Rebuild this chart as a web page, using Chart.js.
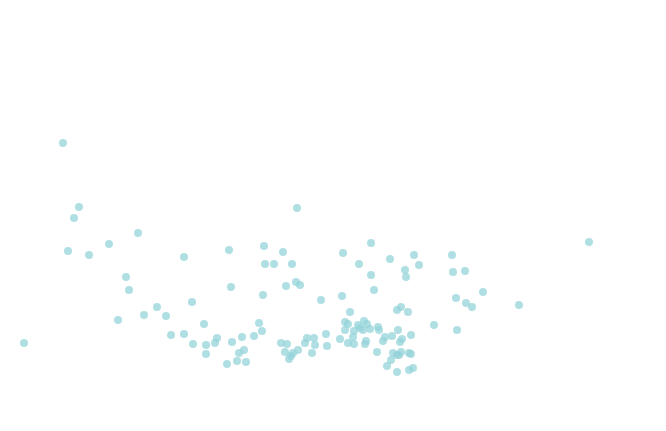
<!DOCTYPE html>
<html>
<head>
<meta charset="utf-8">
<script src="https://cdn.jsdelivr.net/npm/chart.js@4/dist/chart.umd.min.js"></script>
<style>
    html, body { margin: 0; padding: 0; background: #fff; }
    #wrap { width: 666px; height: 431px; }
</style>
</head>
<body>
<div id="wrap"><canvas id="scatterChart"></canvas></div>
<script>
// Point values (no axes shown in the reference, so units are arbitrary)
const xValues = [
    63, 79, 74, 68, 89, 109, 138, 126, 129, 118, 24,
    229, 184, 231, 192, 144, 157, 166, 204, 171, 184, 193, 206, 215, 217, 206, 227, 232,
    297, 264, 283, 265, 274, 292, 286, 296, 300, 263, 321, 259, 262, 254, 242, 239, 244, 237, 246,
    281, 287, 285, 289, 291, 293, 298, 305, 307, 314, 315, 312, 326, 327, 340,
    371, 343, 359, 390, 414, 419, 405, 406, 371, 374, 342, 350, 397, 401, 408,
    345, 348, 345, 354, 358, 360, 364, 367, 363, 370, 378, 379, 348, 353, 354, 366, 365,
    385, 383, 392, 398, 402, 400, 411, 377, 393, 397, 401, 399, 409, 411, 391, 387, 397, 409, 413,
    589, 452, 453, 465, 483, 456, 466, 472, 519, 434, 457
];
const yValues = [
    143, 207, 218, 251, 255, 244, 233, 277, 290, 320, 343,
    250, 257, 287, 302, 315, 307, 316, 324, 335, 334, 344, 345, 343, 338, 354, 364, 342,
    208, 246, 252, 264, 264, 264, 286, 282, 285, 295, 300, 323, 331, 336, 337, 353, 350, 361, 362,
    343, 344, 352, 359, 356, 353, 350, 343, 338, 338, 345, 353, 334, 346, 339,
    243, 253, 264, 259, 255, 265, 270, 277, 275, 290, 296, 312, 310, 307, 312,
    322, 324, 330, 331, 325, 328, 321, 324, 330, 329, 327, 330, 343, 337, 344, 341, 344,
    337, 341, 336, 330, 339, 342, 335, 352, 353, 355, 352, 355, 353, 354, 360, 366, 372, 370, 368,
    242, 255, 272, 271, 292, 298, 303, 307, 305, 325, 330
];

const points = xValues.map((x, i) => ({ x: x, y: 431 - yValues[i] }));

const ctx = document.getElementById('scatterChart').getContext('2d');
const scatterChart = new Chart(ctx, {
    type: 'scatter',
    data: {
        datasets: [{
            data: points,
            backgroundColor: 'rgba(145, 210, 216, 0.72)',
            borderWidth: 0,
            pointRadius: 4,
            pointHoverRadius: 4,
            clip: false
        }]
    },
    options: {
        responsive: true,
        maintainAspectRatio: false,
        animation: false,
        layout: { padding: 0, autoPadding: false },
        plugins: {
            legend: { display: false },
            tooltip: { enabled: false }
        },
        scales: {
            x: { type: 'linear', min: 0, max: 666, display: false },
            y: { type: 'linear', min: 0, max: 431, display: false }
        }
    }
});
</script>
</body>
</html>
